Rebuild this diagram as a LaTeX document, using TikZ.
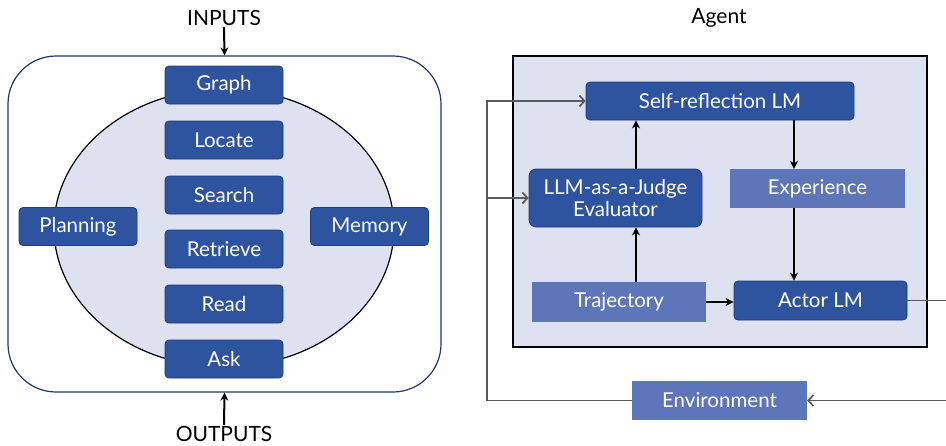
\documentclass[tikz,border=0pt]{standalone}
\usepackage{fontspec}
\setmainfont{Lato}
\usetikzlibrary{arrows.meta,shapes.geometric,calc}
\definecolor{darkbox}{HTML}{2E54A0}
\definecolor{darkedge}{HTML}{1F3D7C}
\definecolor{lightbox}{HTML}{5C76B9}
\definecolor{pale}{HTML}{DEE1F0}
\definecolor{navy}{HTML}{1F3864}
\definecolor{gline}{HTML}{5A5A5A}
\begin{document}
\begin{tikzpicture}[x=1pt,y=-1pt,
  darkn/.style={draw=darkedge, line width=0.8pt, fill=darkbox, rounded corners=4pt, text=white,
    minimum width=118pt, minimum height=38pt, inner sep=0pt, font=\fontsize{20.5}{22}\selectfont},
  lightn/.style={draw=none, fill=lightbox, text=white, inner sep=0pt,
    minimum height=39pt, font=\fontsize{20.5}{22}\selectfont},
  barrow/.style={draw=black, line width=2pt, -{Stealth[length=8pt,width=8pt]}},
  garrow/.style={draw=gline, line width=1.7pt, -{Straight Barb[length=5pt,width=11pt]}},
  lbl/.style={inner sep=1pt, font=\fontsize{21}{23}\selectfont}
]
\useasboundingbox (0,0) rectangle (946,445);

% ---------- left panel ----------
\node[draw=navy, line width=1.2pt, rounded corners=48pt, minimum width=433pt, minimum height=336pt, inner sep=0pt] (outer) at (224.5,224) {};
\node[ellipse, draw=black, line width=1.2pt, fill=pale, minimum width=340pt, minimum height=278pt, inner sep=0pt] (ell) at (224,228) {};

\node[darkn] (graph) at (224,85) {Graph};
\node[darkn] (locate) at (224,140) {Locate};
\node[darkn] (search) at (224,195) {Search};
\node[darkn] (retrieve) at (224,249) {Retrieve};
\node[darkn] (read) at (224,304) {Read};
\node[darkn] (ask) at (224,359) {Ask};
\node[darkn] (planning) at (78,226.5) {Planning};
\node[darkn] (memory) at (369.5,226.5) {Memory};

\node[lbl] (inputs) at (224,18) {INPUTS};
\node[lbl] (outputs) at (224,434) {OUTPUTS};
\draw[barrow] (inputs.south) -- (outer.north);
\draw[barrow] (outputs.north) -- (outer.south);

% ---------- right panel ----------
\node[lbl] (agentlbl) at (719,18) {Agent};
\node[draw=black, line width=1.4pt, fill=pale, minimum width=414pt, minimum height=291pt, inner sep=0pt] (agent) at (720,201.5) {};

\node[darkn, minimum width=268pt] (self) at (720,101) {Self-reflection LM};
\node[darkn, minimum width=173pt, minimum height=58pt, align=center, rounded corners=7pt] (judge) at (615.5,198) {LLM-as-a-Judge\\Evaluator};
\node[lightn, minimum width=175pt] (exp) at (817.5,188.5) {Experience};
\node[lightn, minimum width=174pt, minimum height=40pt] (traj) at (619,302) {Trajectory};
\node[darkn, minimum width=173pt, minimum height=39pt] (actor) at (820.5,300.5) {Actor LM};
\node[lightn, minimum width=175pt] (env) at (719.5,400.5) {Environment};

\coordinate (c1) at (636,0);
\coordinate (c2) at (794,0);
\coordinate (lx) at (487,0);
\coordinate (rx) at (960,0);

\draw[barrow] (judge.north -| c1) -- (self.south -| c1);
\draw[barrow] (traj.north -| c1) -- (judge.south -| c1);
\draw[barrow] (self.south -| c2) -- (exp.north -| c2);
\draw[barrow] (exp.south -| c2) -- (actor.north -| c2);
\draw[barrow] (traj.east) -- (traj.east -| actor.west);

\draw[garrow] (actor.east) -- (actor.east -| rx) |- (env.east);
\draw[garrow] (env.west) -- (env.west -| lx) |- (self.west);
\draw[garrow] (lx |- judge.west) -- (judge.west);
\end{tikzpicture}
\end{document}
